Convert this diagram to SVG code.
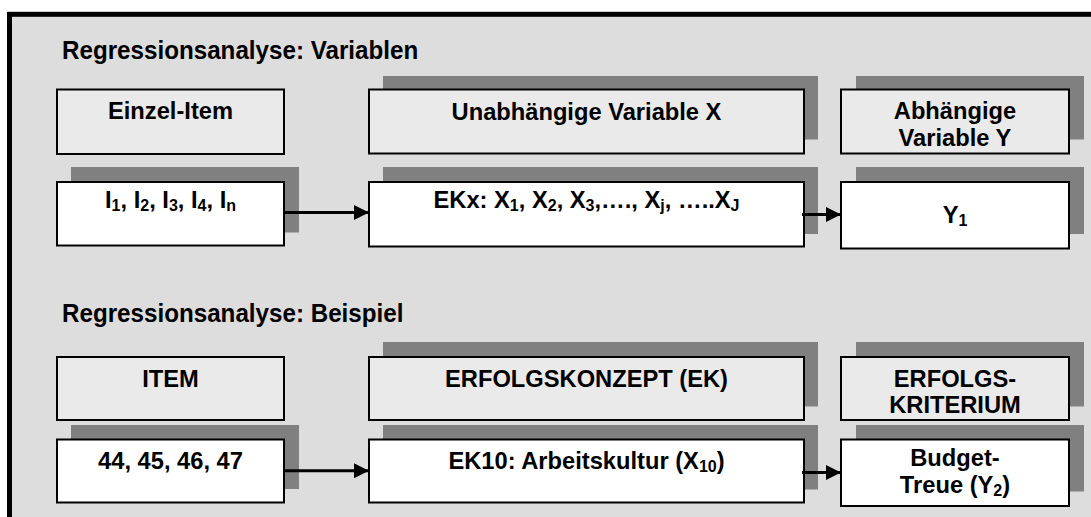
<svg xmlns="http://www.w3.org/2000/svg" width="1091" height="517" viewBox="0 0 1091 517">
<defs>
<style>
.frame{fill:#dddddd;stroke:#000;stroke-width:5}
.sh{fill:#808080}
.hd{fill:#eaeaea;stroke:#000;stroke-width:2}
.bx{fill:#ffffff;stroke:#000;stroke-width:2}
.t{font-family:"Liberation Sans",Arial,sans-serif;font-weight:bold;font-size:23.7px;fill:#000;text-anchor:middle}
.ttl{font-family:"Liberation Sans",Arial,sans-serif;font-weight:bold;font-size:24.2px;fill:#000}
.sub{font-size:16px}
.ln{stroke:#000;stroke-width:3;fill:none}
</style>
<marker id="ah" markerWidth="15" markerHeight="15" refX="15" refY="7.5" orient="auto" markerUnits="userSpaceOnUse">
<path d="M0,0 L15,7.5 L0,15 Z" fill="#000"/>
</marker>
</defs>
<rect x="0" y="0" width="1091" height="517" fill="#ffffff"/>
<rect class="frame" x="9.5" y="14.3" width="1100" height="520"/>

<g transform="scale(1,1.1)">
<text class="ttl" x="62" y="53.7">Regressionsanalyse: Variablen</text>
<text class="ttl" x="62" y="292.3">Regressionsanalyse: Beispiel</text>
</g>

<g id="einzel-item">
<rect class="hd" x="57" y="89.5" width="227" height="64.5"/>
<text class="t" x="170.5" y="119.3">Einzel-Item</text>
</g>
<g id="items">
<rect class="sh" x="71" y="167" width="228" height="65.5"/>
<rect class="bx" x="57" y="182" width="227" height="63.5"/>
<text class="t" x="170.5" y="208.3">I<tspan class="sub" dy="3">1</tspan><tspan dy="-3">, I</tspan><tspan class="sub" dy="3">2</tspan><tspan dy="-3">, I</tspan><tspan class="sub" dy="3">3</tspan><tspan dy="-3">, I</tspan><tspan class="sub" dy="3">4</tspan><tspan dy="-3">, I</tspan><tspan class="sub" dy="3">n</tspan></text>
</g>
<g id="unabh-var">
<rect class="sh" x="383" y="76" width="435" height="63.5"/>
<rect class="hd" x="369" y="89.5" width="435" height="64"/>
<text class="t" x="586.5" y="120">Unabhängige Variable X</text>
</g>
<g id="ekx">
<rect class="sh" x="383" y="167" width="435" height="67"/>
<rect class="bx" x="369" y="182" width="435" height="64.5"/>
<text class="t" x="586.5" y="207.5">EKx: X<tspan class="sub" dy="3">1</tspan><tspan dy="-3">, X</tspan><tspan class="sub" dy="3">2</tspan><tspan dy="-3">, X</tspan><tspan class="sub" dy="3">3</tspan><tspan dy="-3">,…., X</tspan><tspan class="sub" dy="3">j</tspan><tspan dy="-3">, …..X</tspan><tspan class="sub" dy="3">J</tspan></text>
</g>
<g id="abh-var">
<rect class="sh" x="856" y="76" width="228" height="63.5"/>
<rect class="hd" x="841" y="89.5" width="228" height="64"/>
<text class="t" x="955" y="119.3">Abhängige</text>
<text class="t" x="955" y="146">Variable Y</text>
</g>
<g id="y1">
<rect class="sh" x="856" y="167" width="228" height="67"/>
<rect class="bx" x="841" y="182" width="228" height="66.5"/>
<text class="t" x="955" y="223.3">Y<tspan class="sub" dy="3">1</tspan></text>
</g>

<g id="item">
<rect class="hd" x="57" y="357" width="227" height="63"/>
<text class="t" x="170.5" y="386.7">ITEM</text>
</g>
<g id="item-nums">
<rect class="sh" x="71" y="425" width="228" height="64"/>
<rect class="bx" x="57" y="439.5" width="227" height="63"/>
<text class="t" x="170.5" y="469.3">44, 45, 46, 47</text>
</g>
<g id="erfolgskonzept">
<rect class="sh" x="383" y="342" width="435" height="64.5"/>
<rect class="hd" x="369" y="357" width="435" height="63"/>
<text class="t" x="586.5" y="386.7">ERFOLGSKONZEPT (EK)</text>
</g>
<g id="ek10">
<rect class="sh" x="383" y="425" width="435" height="64.5"/>
<rect class="bx" x="369" y="439.5" width="435" height="63"/>
<text class="t" x="586.5" y="469.3">EK10: Arbeitskultur (X<tspan class="sub" dy="3">10</tspan><tspan dy="-3">)</tspan></text>
</g>
<g id="erfolgskriterium">
<rect class="sh" x="856" y="342" width="228" height="64.5"/>
<rect class="hd" x="841" y="357" width="228" height="63"/>
<text class="t" x="955" y="386.7">ERFOLGS-</text>
<text class="t" x="955" y="412.7">KRITERIUM</text>
</g>
<g id="budget">
<rect class="sh" x="856" y="425" width="228" height="66.5"/>
<rect class="bx" x="841" y="439.5" width="228" height="66.5"/>
<text class="t" x="955" y="466">Budget-</text>
<text class="t" x="955" y="493.3">Treue (Y<tspan class="sub" dy="3">2</tspan><tspan dy="-3">)</tspan></text>
</g>

<g id="connectors">
<line class="ln" x1="283" y1="212.5" x2="369" y2="212.5" marker-end="url(#ah)"/>
<line class="ln" x1="802" y1="214.5" x2="841" y2="214.5" marker-end="url(#ah)"/>
<line class="ln" x1="283" y1="470.7" x2="369" y2="470.7" marker-end="url(#ah)"/>
<line class="ln" x1="802" y1="472.5" x2="841" y2="472.5" marker-end="url(#ah)"/>
</g>
</svg>
